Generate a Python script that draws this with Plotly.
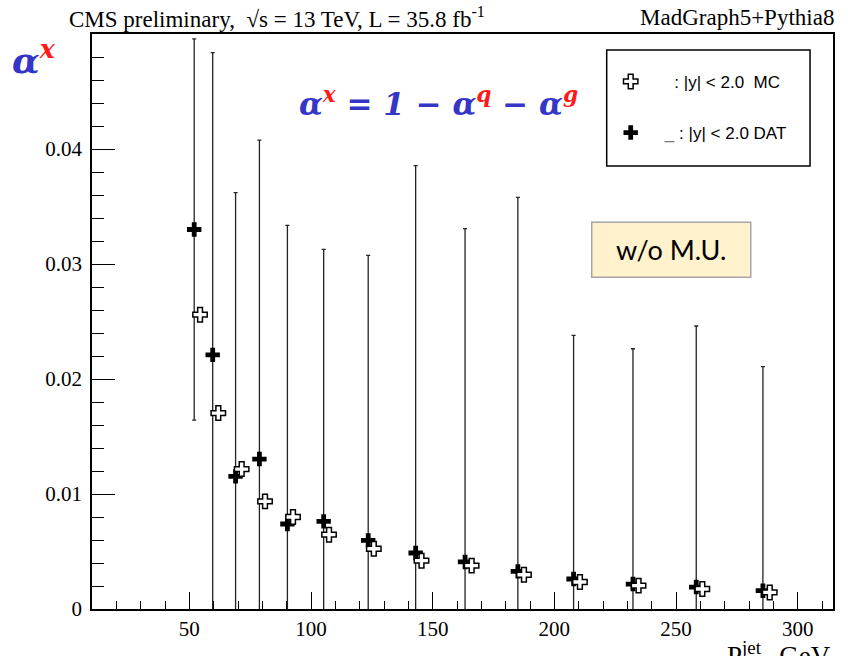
import plotly.graph_objects as go

# Jet transverse momentum bins (GeV) and extracted alpha^x fractions
pt_data = [52, 59.6, 69, 78.8, 90.3, 105.2, 123.5, 143, 163.3, 185, 207.9, 232.3, 258.3, 285.7]
alpha_data = [0.0330, 0.0221, 0.01153, 0.01304, 0.00739, 0.00762, 0.00597, 0.00487,
              0.00409, 0.00327, 0.00261, 0.00217, 0.00191, 0.00159]
alpha_data_err = [0.01657, 0.02628, 0.02467, 0.02774, 0.02597, 0.02365, 0.02478, 0.03368,
                  0.02898, 0.03252, 0.02118, 0.02046, 0.0227, 0.01948]

pt_mc = [54.4, 61.9, 71.5, 81.1, 92.6, 107.4, 125.8, 145.4, 166, 187.5, 210.5, 234.6, 260.8, 288.5]
alpha_mc = [0.02559, 0.01704, 0.01217, 0.00936, 0.0080, 0.00646, 0.00524, 0.0042,
            0.00377, 0.00298, 0.00235, 0.00203, 0.00174, 0.00144]

x_range = [10, 314.5]
y_range = [0, 0.05]
y_tickvals = [0, 0.01, 0.02, 0.03, 0.04]
y_ticktext = ["0", "0.01", "0.02", "0.03", "0.04"]

NBSP = "\u00a0"
BLUE = "#3535c8"
RED = "#ff1a1a"
SERIF = "Liberation Serif"
MATH = "DejaVu Serif"

fig = go.Figure()

fig.add_trace(go.Scatter(
    x=pt_data, y=alpha_data, mode="markers",
    name=NBSP * 3 + '<span style="color:#777">_</span> : |y| < 2.0 DAT',
    legendrank=2, legendgroup="dat",
    marker=dict(symbol="cross", size=12, color="black"),
    error_y=dict(type="data", array=alpha_data_err, visible=True,
                 color="#222", thickness=1.3, width=2),
))
fig.add_trace(go.Scatter(
    x=pt_mc, y=alpha_mc, mode="markers",
    name=NBSP * 5 + ": |y| < 2.0" + NBSP * 2 + "MC",
    legendrank=1, legendgroup="mc",
    marker=dict(symbol="cross", size=12, color="white",
                line=dict(color="black", width=1.5)),
))

axis_common = dict(
    showline=True, linecolor="black", linewidth=1.5, mirror=True,
    showgrid=False, zeroline=False, ticks="inside", tickcolor="black",
    tickwidth=1.3, tickfont=dict(family=SERIF, size=21, color="black"),
)

fig.update_xaxes(range=x_range, tick0=0, dtick=50, ticklen=17,
                 minor=dict(ticks="inside", dtick=10, tick0=0, ticklen=8,
                            tickcolor="black", tickwidth=1.3),
                 **axis_common)
fig.update_yaxes(range=y_range, tickmode="array", tickvals=y_tickvals, ticktext=y_ticktext,
                 ticklen=23, ticklabelstandoff=4,
                 minor=dict(ticks="inside", tickmode="linear", dtick=0.002, tick0=0,
                            ticklen=12, tickcolor="black", tickwidth=1.3),
                 **axis_common)

# legend frame and the "w/o M.U." label box
shapes = [
    dict(type="rect", xref="paper", yref="paper",
         x0=0.6946, x1=0.969, y0=0.7704, y1=0.972,
         line=dict(color="black", width=1.5), fillcolor="white", layer="below"),
    dict(type="rect", xref="paper", yref="paper",
         x0=0.6744, x1=0.889, y0=0.5768, y1=0.6725,
         line=dict(color="#a6a6a6", width=1.5), fillcolor="#fff2cc"),
]

annotations = [
    dict(text="CMS preliminary,  √s = 13 TeV, L = 35.8 fb<sup>-1</sup>",
         xref="paper", yref="paper", x=-0.034, y=1.029, xanchor="left", yanchor="middle",
         showarrow=False, font=dict(family=SERIF, size=23, color="black")),
    dict(text="MadGraph5+Pythia8",
         xref="paper", yref="paper", x=1.004, y=1.029, xanchor="right", yanchor="middle",
         showarrow=False, font=dict(family=SERIF, size=23, color="black")),
    dict(text="w/o M.U.",
         xref="paper", yref="paper", x=0.7815, y=0.6246, xanchor="center", yanchor="middle",
         showarrow=False, font=dict(family="Lato", size=27, color="black")),
    dict(text=(f'<b><i>α<sup><span style="color:{RED}">x</span></sup> = 1 − '
               f'α<sup><span style="color:{RED}">q</span></sup> − '
               f'α<sup><span style="color:{RED}">g</span></sup></i></b>'),
         xref="paper", yref="paper", x=0.4675, y=0.8817, xanchor="center", yanchor="middle",
         showarrow=False, font=dict(family=MATH, size=31, color=BLUE)),
    dict(text=f'<b><i>α<sup><span style="color:{RED}">x</span></sup></i></b>',
         xref="paper", yref="paper", x=-0.078, y=0.959, xanchor="center", yanchor="middle",
         showarrow=False, font=dict(family=MATH, size=36, color=BLUE)),
    dict(text="P<sup>jet</sup><sub>T</sub> GeV",
         xref="paper", yref="paper", x=1.0, y=-0.046, xanchor="right", yanchor="top",
         showarrow=False, font=dict(family=SERIF, size=27, color="black")),
]

fig.update_layout(
    width=848, height=656,
    margin=dict(l=92, r=15, t=34, b=47),
    paper_bgcolor="white", plot_bgcolor="white",
    showlegend=True,
    legend=dict(x=0.70, y=0.948, xanchor="left", yanchor="top",
                bgcolor="rgba(0,0,0,0)", borderwidth=0,
                tracegroupgap=26, itemsizing="trace",
                font=dict(family="Liberation Sans", size=17, color="black")),
    shapes=shapes,
    annotations=annotations,
)

fig.write_html("out.html")
